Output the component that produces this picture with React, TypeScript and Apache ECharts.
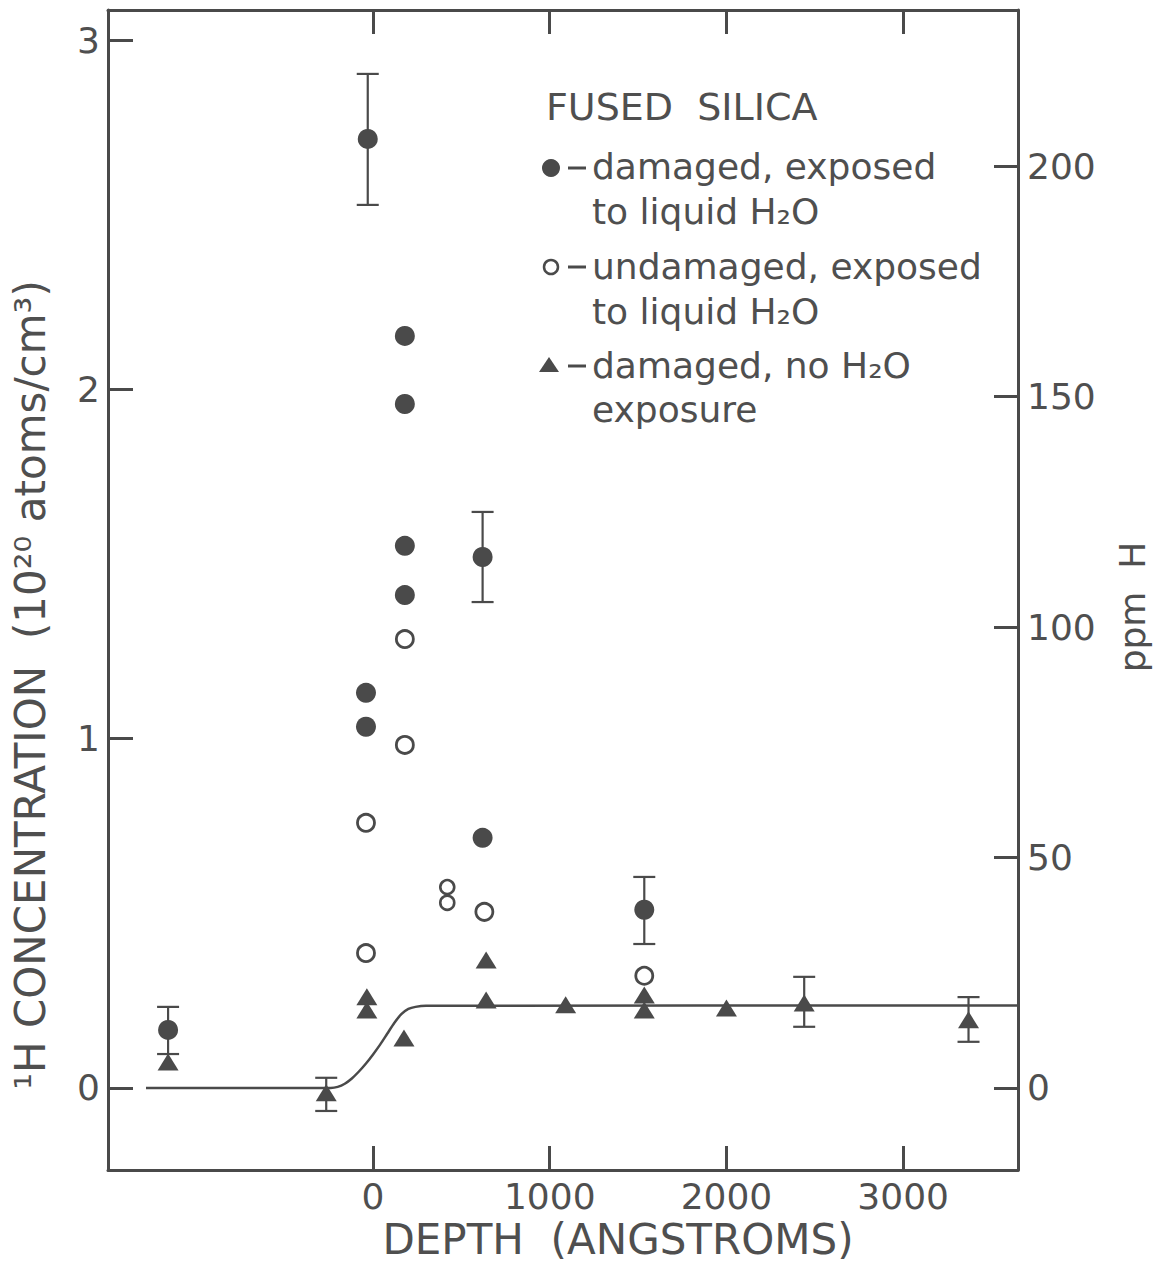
import React, { useEffect, useRef } from "react";
import * as echarts from "echarts";

// ---- data (depth in Å, concentration in 10^20 atoms/cm^3) ----
const filledDepth = [-1160, -30, 180, 180, 180, 180, -40, -40, 620, 620, 1535];
const filledConc = [0.166, 2.717, 2.153, 1.958, 1.552, 1.411, 1.131, 1.034, 1.52, 0.716, 0.51];

const openDepth = [-40, -40, 180, 180, 630, 1535];
const openConc = [0.759, 0.386, 1.285, 0.982, 0.504, 0.321];

const pairDepth = [420, 420];
const pairConc = [0.575, 0.53];

const triDepth = [-1160, -265, -35, -35, 175, 640, 640, 1090, 1535, 1535, 2000, 2440, 3370];
const triConc = [0.074, -0.014, 0.261, 0.223, 0.143, 0.366, 0.252, 0.238, 0.266, 0.223, 0.229, 0.243, 0.195];

const errDepth = [-1160, -30, 620, 1535, -265, 2440, 3370];
const errLow = [0.097, 2.528, 1.391, 0.412, -0.066, 0.175, 0.132];
const errHigh = [0.232, 2.903, 1.649, 0.604, 0.029, 0.318, 0.26];

const curveDepth = [-1285, -240, -200, -160, -120, -80, -40, 0, 40, 80, 120, 160, 200, 240, 300, 3650];
const curveConc = [0, 0, 0.003, 0.012, 0.027, 0.047, 0.07, 0.096, 0.124, 0.155, 0.186, 0.211, 0.226, 0.232, 0.235, 0.236];

const xTicks = [0, 1000, 2000, 3000];
const yTicks = [0, 1, 2, 3];
const ppmTicks = [0, 50, 100, 150, 200];

const X_MIN = -1500;
const X_MAX = 3650;
const Y_MIN = -0.235;
const Y_MAX = 3.086;
const PPM_PER_UNIT = 75.8;

const INK = "#4a4a4a";
const TEXT = "#4f4f4f";
const FONT = "DejaVu Sans";

const zip = (a: number[], b: number[]) => a.map((v, i) => [v, b[i]]);

export default function App() {
  const ref = useRef<HTMLDivElement>(null);
  useEffect(() => {
    if (!ref.current) return;
    const chart = echarts.init(ref.current, undefined, { renderer: "svg" });

    const axisLine = { show: true, onZero: false, lineStyle: { color: INK, width: 3 } };
    const tickStyle = { color: INK, width: 3 };
    const labelStyle = {
      color: TEXT,
      fontSize: 36,
      fontFamily: FONT,
      formatter: (v: number) => String(v),
    };

    const legendText = (x: number, y: number, text: string, size = 36) => ({
      type: "text",
      x,
      y,
      style: { text, fill: TEXT, font: `${size}px "${FONT}"`, align: "left", verticalAlign: "middle" },
    });
    const dash = (y: number) => ({
      type: "line",
      shape: { x1: 568, y1: y, x2: 586, y2: y },
      style: { stroke: INK, lineWidth: 3 },
    });

    chart.setOption({
      animation: false,
      backgroundColor: "#ffffff",
      grid: { left: 108, top: 10, width: 910, height: 1160, containLabel: false },
      xAxis: [
        {
          type: "value",
          position: "bottom",
          min: X_MIN,
          max: X_MAX,
          axisLine,
          axisTick: { show: true, inside: true, length: 24, customValues: xTicks, lineStyle: tickStyle },
          axisLabel: { show: true, customValues: xTicks, margin: 8, ...labelStyle },
          splitLine: { show: false },
        },
        {
          type: "value",
          position: "top",
          min: X_MIN,
          max: X_MAX,
          axisLine,
          axisTick: { show: true, inside: true, length: 24, customValues: xTicks, lineStyle: tickStyle },
          axisLabel: { show: false },
          splitLine: { show: false },
        },
      ],
      yAxis: [
        {
          type: "value",
          position: "left",
          min: Y_MIN,
          max: Y_MAX,
          axisLine,
          axisTick: { show: true, inside: true, length: 25, customValues: yTicks, lineStyle: tickStyle },
          axisLabel: { show: true, customValues: yTicks, margin: 8, ...labelStyle },
          splitLine: { show: false },
        },
        {
          type: "value",
          position: "right",
          min: Y_MIN * PPM_PER_UNIT,
          max: Y_MAX * PPM_PER_UNIT,
          axisLine,
          axisTick: { show: true, inside: true, length: 24, customValues: ppmTicks, lineStyle: tickStyle },
          axisLabel: { show: true, customValues: ppmTicks, margin: 9, ...labelStyle },
          splitLine: { show: false },
        },
      ],
      series: [
        {
          type: "line",
          data: zip(curveDepth, curveConc),
          smooth: 0.25,
          showSymbol: false,
          symbol: "none",
          lineStyle: { color: INK, width: 2.5 },
          z: 1,
        },
        {
          type: "custom",
          data: errDepth.map((d, i) => [d, errLow[i], errHigh[i]]),
          encode: { x: 0, y: [1, 2] },
          z: 2,
          renderItem: (params: any, api: any) => {
            const x = api.value(0);
            const lo = api.coord([x, api.value(1)]);
            const hi = api.coord([x, api.value(2)]);
            const w = 11;
            const st = { stroke: INK, lineWidth: 2.2 };
            return {
              type: "group",
              children: [
                { type: "line", shape: { x1: lo[0], y1: lo[1], x2: hi[0], y2: hi[1] }, style: st },
                { type: "line", shape: { x1: lo[0] - w, y1: lo[1], x2: lo[0] + w, y2: lo[1] }, style: st },
                { type: "line", shape: { x1: hi[0] - w, y1: hi[1], x2: hi[0] + w, y2: hi[1] }, style: st },
              ],
            };
          },
        },
        {
          type: "scatter",
          name: "damaged, exposed to liquid H2O",
          data: zip(filledDepth, filledConc),
          symbol: "circle",
          symbolSize: 20,
          itemStyle: { color: INK, opacity: 1 },
          z: 3,
        },
        {
          type: "scatter",
          name: "undamaged, exposed to liquid H2O",
          data: zip(openDepth, openConc),
          symbol: "circle",
          symbolSize: 17,
          itemStyle: { color: "#ffffff", borderColor: INK, borderWidth: 2.8, opacity: 1 },
          z: 3,
        },
        {
          type: "scatter",
          data: zip(pairDepth, pairConc),
          symbol: "circle",
          symbolSize: 14,
          itemStyle: { color: "#ffffff", borderColor: INK, borderWidth: 2.6, opacity: 1 },
          z: 3,
        },
        {
          type: "scatter",
          name: "damaged, no H2O exposure",
          data: zip(triDepth, triConc),
          symbol: "triangle",
          symbolSize: [21, 17],
          itemStyle: { color: INK, opacity: 1 },
          z: 4,
        },
      ],
      graphic: [
        {
          type: "text",
          x: 30,
          y: 685,
          rotation: Math.PI / 2,
          style: {
            text: "¹H CONCENTRATION  (10²⁰ atoms/cm³)",
            fill: TEXT,
            font: `42px "${FONT}"`,
            align: "center",
            verticalAlign: "middle",
          },
        },
        {
          type: "text",
          x: 1132,
          y: 607,
          rotation: Math.PI / 2,
          style: { text: "ppm  H", fill: TEXT, font: `36px "${FONT}"`, align: "center", verticalAlign: "middle" },
        },
        {
          type: "text",
          x: 618,
          y: 1239,
          style: {
            text: "DEPTH  (ANGSTROMS)",
            fill: TEXT,
            font: `42px "${FONT}"`,
            align: "center",
            verticalAlign: "middle",
          },
        },
        legendText(546, 107, "FUSED  SILICA", 38),
        { type: "circle", shape: { cx: 551, cy: 168, r: 9 }, style: { fill: INK } },
        dash(168),
        legendText(592, 166, "damaged, exposed"),
        legendText(592, 211, "to liquid H₂O"),
        { type: "circle", shape: { cx: 551, cy: 267, r: 7 }, style: { fill: "#fff", stroke: INK, lineWidth: 2.5 } },
        dash(267),
        legendText(592, 266, "undamaged, exposed"),
        legendText(592, 311, "to liquid H₂O"),
        {
          type: "polygon",
          shape: { points: [[539, 372], [559, 372], [549, 357]] },
          style: { fill: INK },
        },
        dash(366),
        legendText(592, 365, "damaged, no H₂O"),
        legendText(592, 409, "exposure"),
      ],
    });
    return () => chart.dispose();
  }, []);
  return (
    <div
      ref={ref}
      style={{ position: "absolute", left: 0, top: 0, width: 1157, height: 1262, background: "#fff" }}
    />
  );
}
